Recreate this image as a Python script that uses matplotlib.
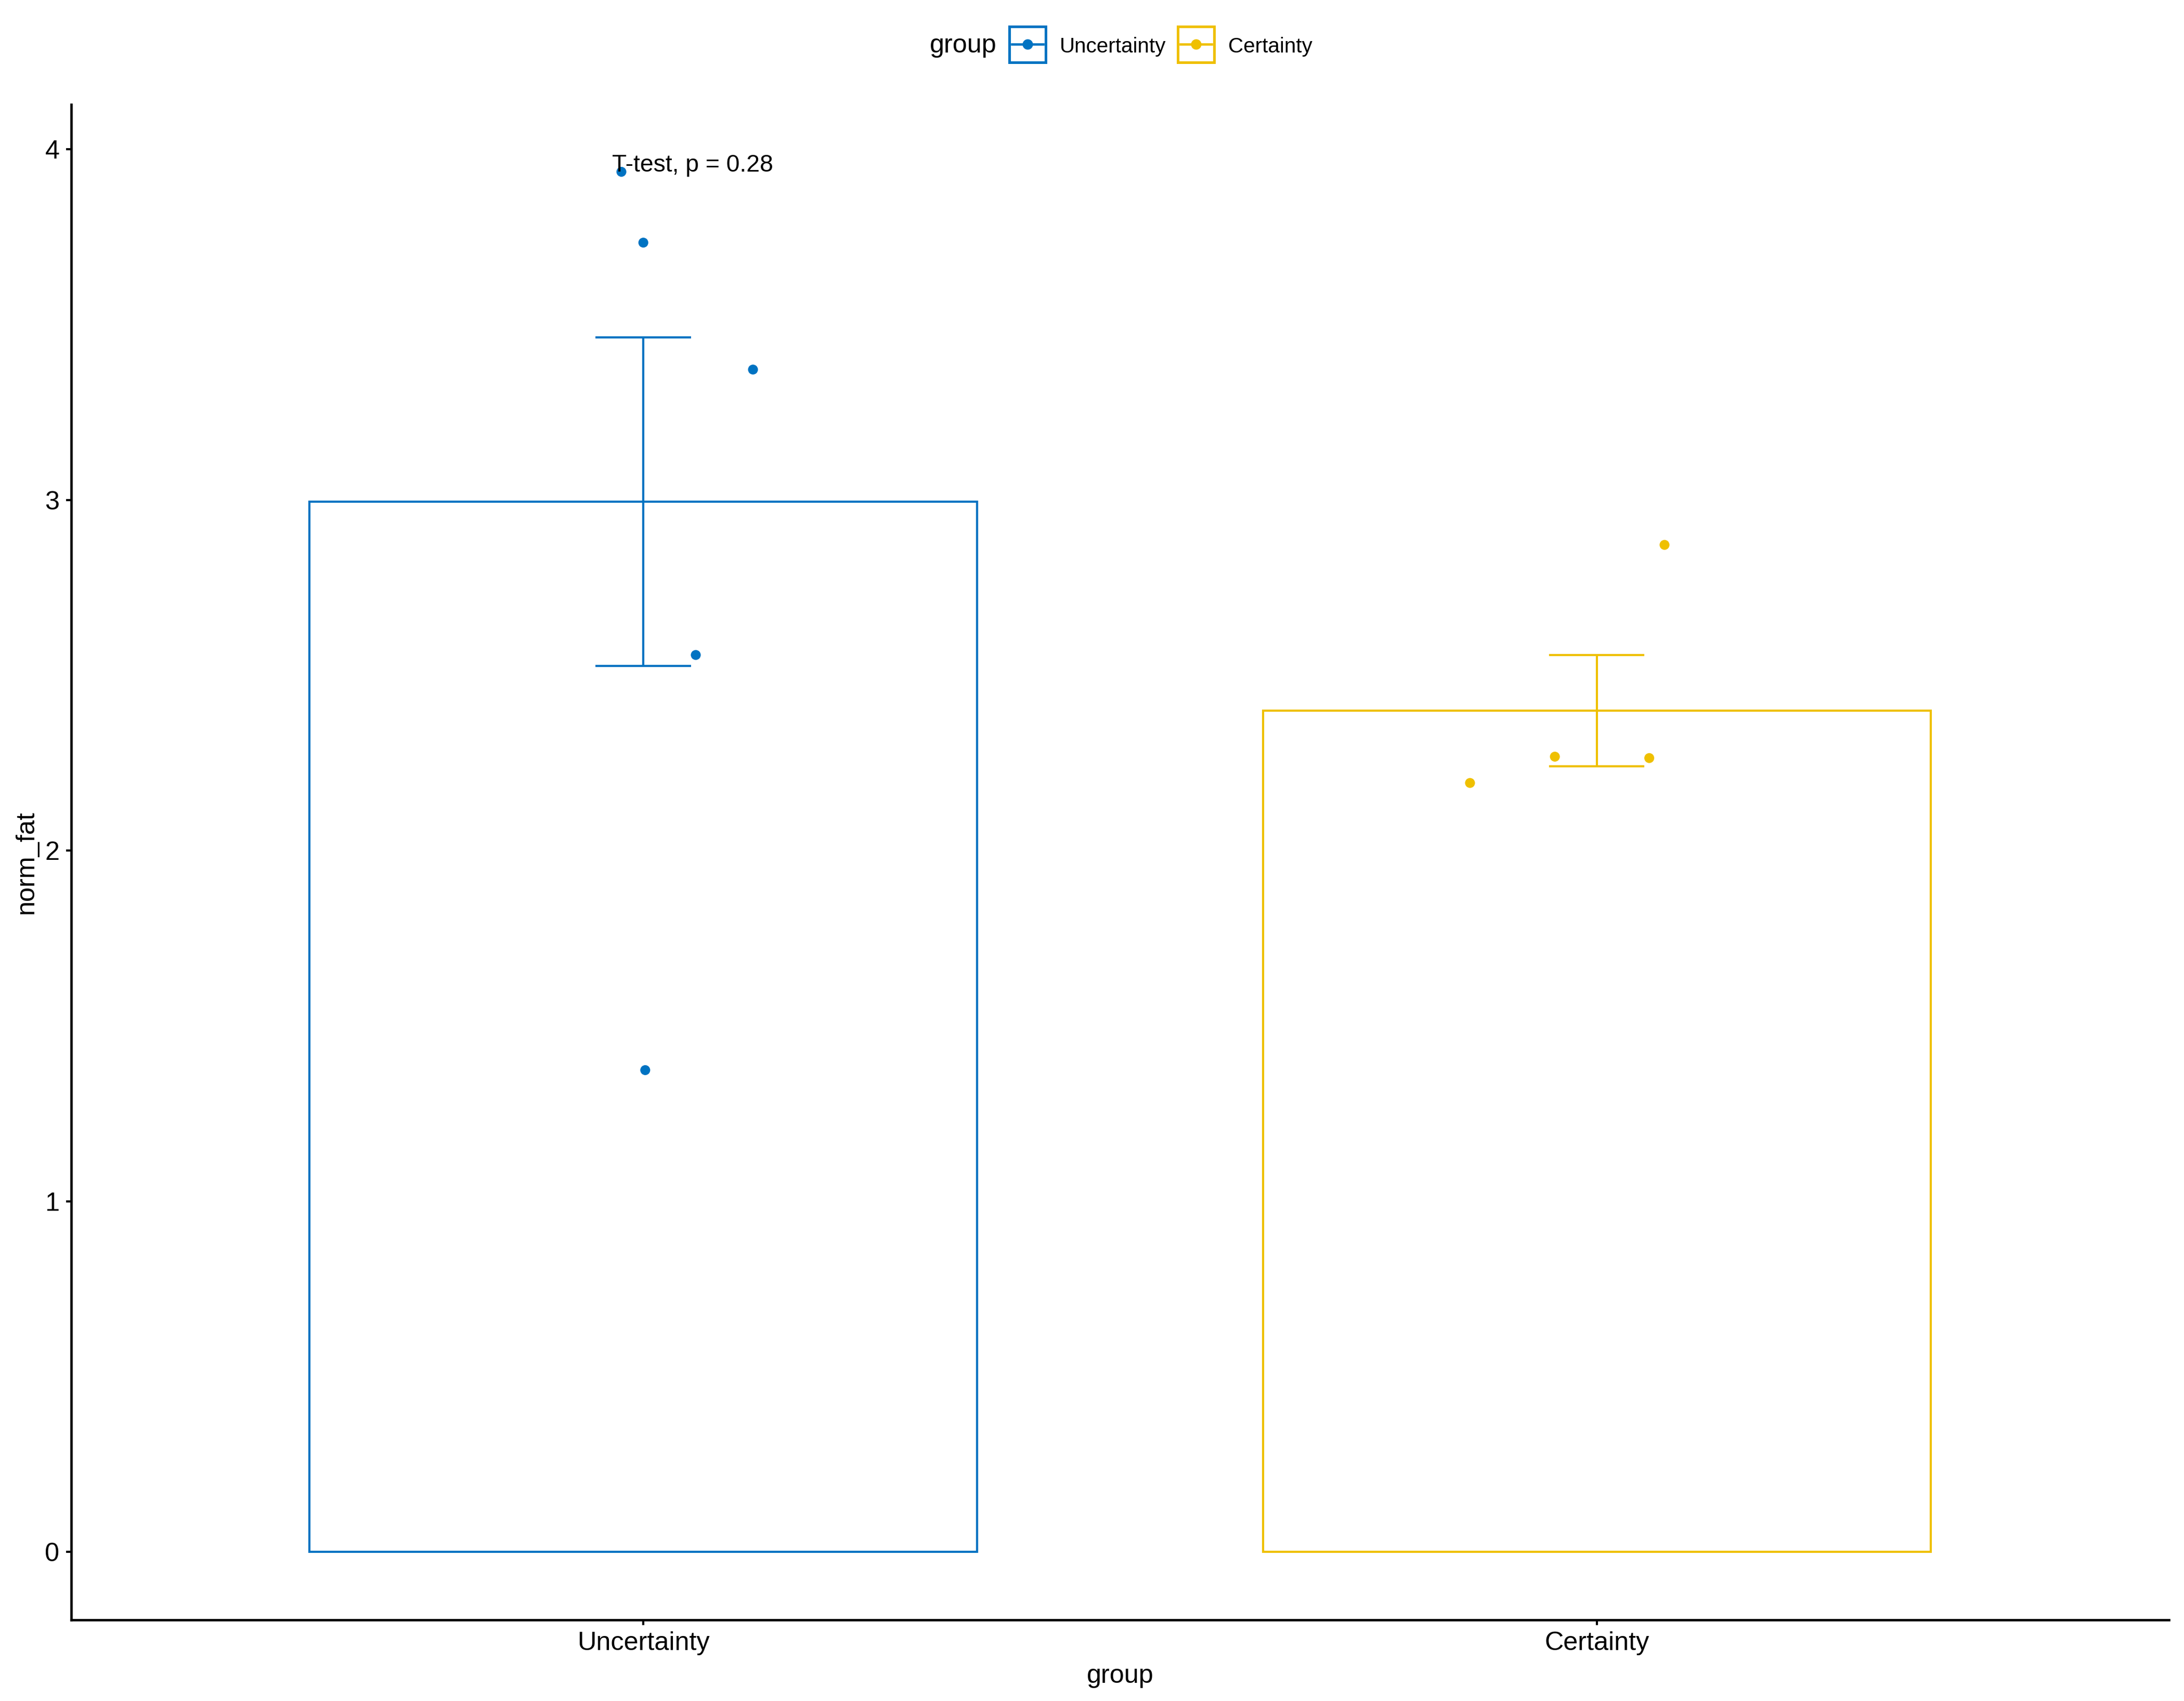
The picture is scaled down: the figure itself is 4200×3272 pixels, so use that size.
#!/usr/bin/env python3
# Bar + jitter plot of norm_fat by group (ggpubr-style) recreated in matplotlib.

import matplotlib

matplotlib.use("Agg")
import matplotlib.pyplot as plt
import numpy as np
from matplotlib.lines import Line2D
from matplotlib.patches import Rectangle

plt.rcParams["font.family"] = ["Liberation Sans", "DejaVu Sans"]

# 데이터: 그림에서 읽은 값
groups = ["Uncertainty", "Certainty"]
colors = ["#0073C2", "#EFC000"]
bar_means = [2.995, 2.399]
bar_se = [0.469, 0.159]

unc_values = [3.936, 3.734, 3.372, 2.558, 1.374]
unc_jitter = [-0.023, 0.000, 0.115, 0.055, 0.002]
cer_values = [2.193, 2.268, 2.264, 2.872]
cer_jitter = [-0.133, -0.044, 0.055, 0.071]

point_values = [unc_values, cer_values]
point_jitter = [unc_jitter, cer_jitter]

p_label = "T-test, p = 0.28"

W, H = 4200, 3272
fig = plt.figure(figsize=(14, H / 300), dpi=300)
ax = fig.add_axes([137 / W, 1 - 3116 / H, (4171 - 137) / W, (3116 - 201) / H])

xpos = np.arange(1, len(groups) + 1)
bar_width = 0.7
cap_half = 0.05

for x, mean, se, col, vals, jit in zip(xpos, bar_means, bar_se, colors, point_values, point_jitter):
    ax.bar(x, mean, width=bar_width, facecolor="white", edgecolor=col, linewidth=1.0, zorder=2)
    # 평균 ± SE 오차 막대
    ax.vlines(x, mean - se, mean + se, color=col, linewidth=1.0, zorder=3)
    ax.hlines([mean - se, mean + se], x - cap_half, x + cap_half, color=col, linewidth=1.0, zorder=3)
    ax.scatter(x + np.asarray(jit), vals, s=21, color=col, edgecolors="none", zorder=4)

ax.text(0.967, max(unc_values), p_label, ha="left", va="baseline", fontsize=11.1, zorder=5)

ax.set_xlim(0.4, 2.6)
ax.set_ylim(-0.194, 4.128)
ax.set_xticks(xpos)
ax.set_xticklabels(groups)
ax.set_yticks([0, 1, 2, 3, 4])
ax.tick_params(axis="both", labelsize=12.1, length=2.4, width=1.0, color="black", pad=3)
ax.set_xlabel("group", fontsize=12.1, labelpad=4)
ax.set_ylabel("norm_fat", fontsize=12.1, labelpad=3)

for side in ("top", "right"):
    ax.spines[side].set_visible(False)
for side in ("left", "bottom"):
    ax.spines[side].set_linewidth(1.1)


# 상단 범례는 figure 좌표에 직접 그린다.
def fx(px):
    return px / W


def fy(py):
    return 1 - py / H


fig.text(fx(1788), fy(101), "group", fontsize=12.1, ha="left", va="baseline")
box_lefts = [1941, 2265]
text_lefts = [2038, 2362]
for left, tleft, col, name in zip(box_lefts, text_lefts, colors, groups):
    fig.add_artist(
        Rectangle((fx(left), fy(120)), fx(70), 69 / H, transform=fig.transFigure,
                  facecolor="white", edgecolor=col, linewidth=1.2)
    )
    fig.add_artist(
        Line2D([fx(left + 5), fx(left + 65)], [fy(85), fy(85)], transform=fig.transFigure,
               color=col, linewidth=1.1)
    )
    fig.add_artist(
        Line2D([fx(left + 35)], [fy(85)], transform=fig.transFigure, marker="o",
               markersize=4.8, color=col, markeredgewidth=0)
    )
    fig.text(fx(tleft), fy(101), name, fontsize=9.7, ha="left", va="baseline")

fig.savefig("out.png", dpi=300)
